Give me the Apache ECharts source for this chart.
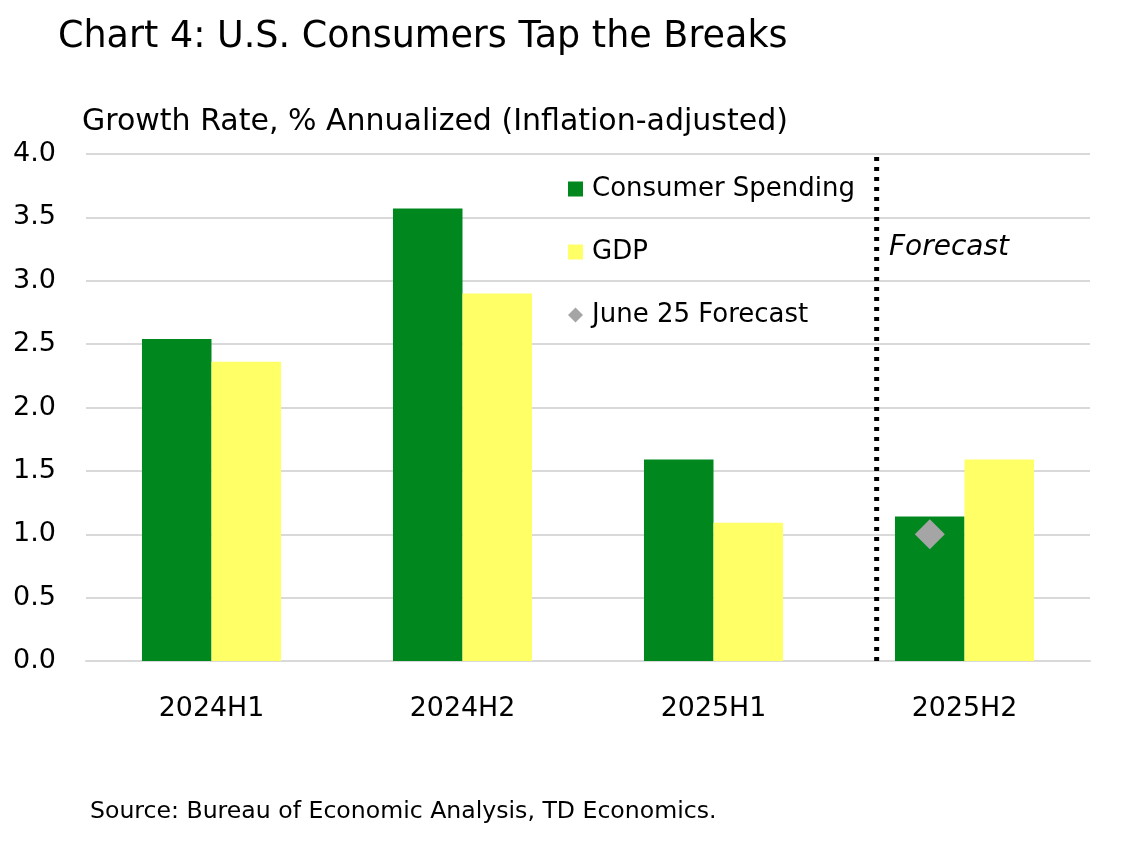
<!DOCTYPE html>
<html>
<head>
<meta charset="utf-8">
<script src="https://cdn.jsdelivr.net/npm/echarts@6/dist/echarts.min.js"></script>
<style>
  html, body { margin: 0; padding: 0; background: #fff; }
  #chart { width: 1143px; height: 848px; }
</style>
</head>
<body>
<div id="chart"></div>
<script>
const categories = ['2024H1', '2024H2', '2025H1', '2025H2']
const consumerSpending = [2.54, 3.57, 1.59, 1.14]
const gdp = [2.36, 2.90, 1.09, 1.59]
const juneForecast = [null, null, null, 1.0]
const yTicks = { min: 0, max: 4, interval: 0.5 }
// where the forecast divider sits, in category units (0 = left edge, 4 = right edge)
const forecastDivider = 3.15

const font = '"DejaVu Sans", sans-serif'
const chart = echarts.init(document.getElementById('chart'))

const option = {
    animation: false,
    textStyle: { fontFamily: font },
    title: [
        { text: 'Chart 4: U.S. Consumers Tap the Breaks', left: 53, top: 14,
          textStyle: { fontSize: 36.5, fontWeight: 'normal', color: '#000', fontFamily: font } },
        { text: 'Growth Rate, % Annualized (Inflation-adjusted)', left: 77, top: 102,
          textStyle: { fontSize: 30, fontWeight: 'normal', color: '#000', fontFamily: font } },
        { text: 'Source: Bureau of Economic Analysis, TD Economics.', left: 85, top: 795,
          textStyle: { fontSize: 23.6, fontWeight: 'normal', color: '#000', fontFamily: font } }
    ],
    legend: {
        orient: 'vertical', left: 563, top: 171, itemGap: 37,
        itemWidth: 15, itemHeight: 15,
        textStyle: { fontSize: 26, color: '#000', fontFamily: font, padding: [0, 0, 0, 4] },
        data: [
            { name: 'Consumer Spending', icon: 'rect' },
            { name: 'GDP', icon: 'rect' },
            { name: 'June 25 Forecast', icon: 'diamond' }
        ]
    },
    grid: { left: 86, right: 53, top: 154, bottom: 187 },
    xAxis: [
        { type: 'category', data: categories,
          axisLine: { lineStyle: { color: '#d9d9d9', width: 2 } },
          axisTick: { show: false },
          axisLabel: { fontSize: 26.8, color: '#000', margin: 35, fontFamily: font } },
        { type: 'value', min: 0, max: 4, show: false }
    ],
    yAxis: {
        type: 'value', min: yTicks.min, max: yTicks.max, interval: yTicks.interval,
        axisLine: { show: false }, axisTick: { show: false },
        axisLabel: { fontSize: 27, color: '#000', margin: 30, fontFamily: font,
                     formatter: v => v.toFixed(1) },
        splitLine: { lineStyle: { color: '#d9d9d9', width: 2 } }
    },
    series: [
        { name: 'Consumer Spending', type: 'bar', data: consumerSpending,
          barWidth: '27.7%', barGap: '0%', itemStyle: { color: '#00871e' } },
        { name: 'GDP', type: 'bar', data: gdp,
          barWidth: '27.7%', itemStyle: { color: '#ffff66' } },
        { name: 'June 25 Forecast', type: 'scatter', data: juneForecast,
          symbol: 'diamond', symbolSize: 30, symbolOffset: [-34.7, 0],
          itemStyle: { color: '#a5a5a5', opacity: 1 }, z: 5 },
        { name: 'divider', type: 'line', xAxisIndex: 1, yAxisIndex: 0,
          data: [[forecastDivider, yTicks.min], [forecastDivider, yTicks.max]],
          symbol: 'none', silent: true,
          lineStyle: { color: '#000', width: 5, type: [4, 6] } }
    ],
    graphic: [
        { type: 'text', left: 889, top: 234,
          style: { text: 'Forecast', fontSize: 28, fontStyle: 'italic', fill: '#000', fontFamily: font } }
    ]
}
chart.setOption(option)
</script>
</body>
</html>
